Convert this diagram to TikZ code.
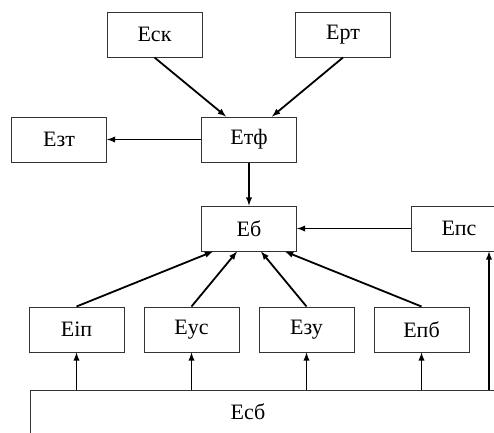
\documentclass[tikz,border=0pt]{standalone}
\usepackage{fontspec}
\setmainfont{Liberation Serif}
\usetikzlibrary{positioning}
\usetikzlibrary{calc}
\usetikzlibrary{arrows}
\tikzset{
  box/.style            = { rectangle, minimum width=95pt, minimum height=45pt, inner sep=0pt },
  border/.style         = { line width=1pt, draw=black!80 },
  caption/.style        = { font=\fontsize{22}{26}\selectfont },
}
\tikzset{
  block/.style={
    box,
    border,
    caption,
    text centered
  },
  relation/.style       = { line width=1.8pt, draw=black, ->, >=latex },
}

\begin{document}
\begin{tikzpicture}[node distance=19pt]
  \useasboundingbox (0,0) rectangle (494pt,-432pt);
  \clip (0,0) rectangle (494pt,-432pt);

  \node (etf) [block] at (249pt,-139.5pt) {Етф};
  \node (esk) [block,above=59pt of etf,xshift=-94.5pt] {Еск};
  \node (ert) [block,above=59pt of etf,xshift=94pt]    {Ерт};
  \node (ezt) [block,left=94pt of etf]                 {Езт};
  \node (eb)  [block,below=43pt of etf]                {Еб};
  \node (eps) [block,right=114pt of eb]                {Епс};
  \node (eus) [block,below=55pt of eb,xshift=-57.5pt]  {Еус};
  \node (eip) [block,left=of eus]                      {Еіп};
  \node (ezu) [block,right=of eus]                     {Езу};
  \node (epb) [block,right=of ezu]                     {Епб};
  \node (esb) [box,border,minimum width=560pt,anchor=north west] at (30pt,-390pt) {};
  \node (esbtext) [caption] at (248pt,-412pt) {Есб};
  \coordinate (epsin) at ([xshift=-18pt]eps.south east);

  \draw [relation] (esk.south) -- ([xshift=-23pt]etf.north);
  \draw [relation] (ert.south) -- ([xshift=23pt]etf.north);
  \draw [relation] (etf) -- (ezt);
  \draw [relation] (etf) -- (eb);
  \draw [relation] (eps) -- (eb);

  \draw [relation] (eip.north) -- ([xshift=-36pt]eb.south);
  \draw [relation] (eus.north) -- ([xshift=-12pt]eb.south);
  \draw [relation] (ezu.north) -- ([xshift=12pt]eb.south);
  \draw [relation] (epb.north) -- ([xshift=36pt]eb.south);

  \draw [relation] (eip |- esb.north) -- (eip);
  \draw [relation] (eus |- esb.north) -- (eus);
  \draw [relation] (ezu |- esb.north) -- (ezu);
  \draw [relation] (epb |- esb.north) -- (epb);
  \draw [relation] (epsin |- esb.north) -- (epsin);
\end{tikzpicture}
\end{document}
